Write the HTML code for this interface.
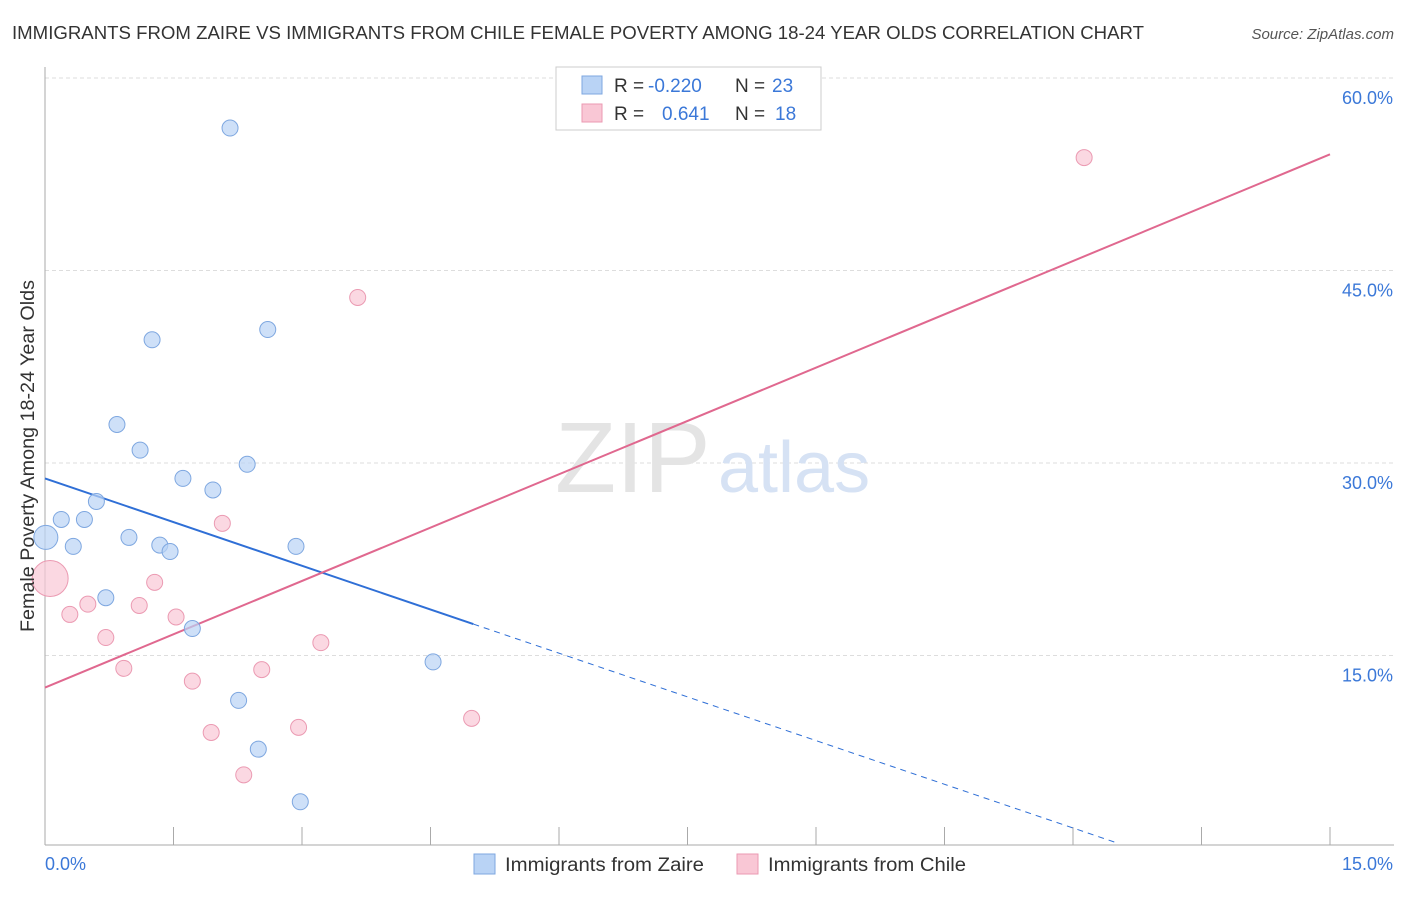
<!DOCTYPE html>
<html><head><meta charset="utf-8"><style>
body{margin:0;background:#fff;font-family:"Liberation Sans",sans-serif;}
svg text{font-family:"Liberation Sans",sans-serif;}
</style></head><body>
<svg width="1406" height="892" xmlns="http://www.w3.org/2000/svg">
<text x="12" y="39" font-size="18" fill="#333" textLength="1132" lengthAdjust="spacingAndGlyphs">IMMIGRANTS FROM ZAIRE VS IMMIGRANTS FROM CHILE FEMALE POVERTY AMONG 18-24 YEAR OLDS CORRELATION CHART</text>
<text x="1394" y="39" font-size="15" fill="#555" text-anchor="end" font-style="italic">Source: ZipAtlas.com</text>
<g id="grid"></g>
<text x="555" y="492" font-size="100" fill="#e4e4e4" font-family="Liberation Serif">ZIP</text>
<text x="718" y="492" font-size="72" fill="#d6e2f4">atlas</text>
<g id="lines"></g>
<g id="points"></g>
<text transform="translate(34,456) rotate(-90)" font-size="19" fill="#333" text-anchor="middle" textLength="352" lengthAdjust="spacingAndGlyphs">Female Poverty Among 18-24 Year Olds</text>
<text x="45" y="870" font-size="18" fill="#3b78d8">0.0%</text>
<text x="1393" y="870" font-size="18" fill="#3b78d8" text-anchor="end">15.0%</text>
<g>
<rect x="556" y="67" width="265" height="63" fill="#fff" stroke="#ccc"/>
<rect x="582" y="76" width="20" height="18" fill="#b9d3f5" stroke="#7ea7e0"/>
<rect x="582" y="104" width="20" height="18" fill="#f9c7d5" stroke="#eb9ab2"/>
<text x="614" y="92" font-size="19" fill="#333">R = <tspan x="648" fill="#3b78d8">-0.220</tspan><tspan x="735">N = </tspan><tspan x="772" fill="#3b78d8">23</tspan></text>
<text x="614" y="120" font-size="19" fill="#333">R = <tspan x="662" fill="#3b78d8">0.641</tspan><tspan x="735">N = </tspan><tspan x="775" fill="#3b78d8">18</tspan></text>
</g>
<g>
<rect x="474" y="854" width="21" height="20" fill="#b9d3f5" stroke="#7ea7e0"/>
<text x="505" y="871" font-size="19" fill="#333" textLength="199" lengthAdjust="spacingAndGlyphs">Immigrants from Zaire</text>
<rect x="737" y="854" width="21" height="20" fill="#f9c7d5" stroke="#eb9ab2"/>
<text x="768" y="871" font-size="19" fill="#333" textLength="198" lengthAdjust="spacingAndGlyphs">Immigrants from Chile</text>
</g>
</svg>
<script>
const yTicks=[15,30,45,60];
const yTickLabels=["15.0%","30.0%","45.0%","60.0%"];
const xTicks=[0,1.5,3,4.5,6,7.5,9,10.5,12,13.5,15];
const zaireX=[2.16,1.25,2.60,0.84,1.11,2.36,1.61,1.96,0.60,0.19,0.46,0.01,0.33,0.98,1.34,1.46,2.93,0.71,1.72,4.53,2.26,2.49,2.98];
const zaireY=[56.1,39.6,40.4,33.0,31.0,29.9,28.8,27.9,27.0,25.6,25.6,24.2,23.5,24.2,23.6,23.1,23.5,19.5,17.1,14.5,11.5,7.7,3.6];
const chileX=[12.13,3.65,2.07,0.06,1.28,0.50,1.10,0.29,1.53,0.71,3.22,0.92,2.53,1.72,4.98,1.94,2.96,2.32];
const chileY=[53.8,42.9,25.3,21.0,20.7,19.0,18.9,18.2,18.0,16.4,16.0,14.0,13.9,13.0,10.1,9.0,9.4,5.7];
const zaireLine=[28.8,-2.27]; // intercept, slope
const chileLine=[12.5,2.77];
const NS="http://www.w3.org/2000/svg";
const sx=v=>45+v/15*1285, sy=v=>848-v/60*770;
function mk(t,a,p){const e=document.createElementNS(NS,t);for(const k in a)e.setAttribute(k,a[k]);p.appendChild(e);return e;}
const grid=document.getElementById('grid');
yTicks.forEach((t,i)=>{
 const l=mk('line',{x1:45,x2:1394,y1:sy(t),y2:sy(t),stroke:'#ddd','stroke-dasharray':'4,3'},grid);
 
 
 const tx=mk('text',{x:1393,y:sy(t)+26,'font-size':18,fill:'#3b78d8','text-anchor':'end'},grid);
 tx.textContent=yTickLabels[i];
 
 
});
const ax=mk('line',{x1:45,x2:1394,y1:845,y2:845,stroke:'#aaa'},grid);


const ay=mk('line',{x1:45,x2:45,y1:67,y2:845,stroke:'#aaa'},grid);


xTicks.forEach(t=>{
 const l=mk('line',{x1:sx(t),x2:sx(t),y1:827,y2:845,stroke:'#aaa'},grid);
 
 
});
const lines=document.getElementById('lines');
const zl=v=>zaireLine[0]+zaireLine[1]*v, cl=v=>chileLine[0]+chileLine[1]*v;
const b1=mk('line',{x1:sx(0),y1:sy(zl(0)),x2:sx(5),y2:sy(zl(5)),stroke:'#2f6fd6','stroke-width':2},lines);


const xe=(zaireLine[0]-0.4)/-zaireLine[1];
const b2=mk('line',{x1:sx(5),y1:sy(zl(5)),x2:sx(xe),y2:sy(zl(xe)),stroke:'#2f6fd6','stroke-width':1,'stroke-dasharray':'6,5'},lines);


const p1=mk('line',{x1:sx(0),y1:sy(cl(0)),x2:sx(15),y2:sy(cl(15)),stroke:'#e0688f','stroke-width':2},lines);


const pts=document.getElementById('points');
zaireX.forEach((x,i)=>{
 const c=mk('circle',{cx:sx(x),cy:sy(zaireY[i]),r:i==11?12:8,fill:'rgba(185,211,245,0.7)',stroke:'#7ea7e0'},pts);
 
 
});
chileX.forEach((x,i)=>{
 const c=mk('circle',{cx:sx(x),cy:sy(chileY[i]),r:i==3?18:8,fill:'rgba(249,199,213,0.7)',stroke:'#eb9ab2'},pts);
 
 
});
</script>
</body></html>
